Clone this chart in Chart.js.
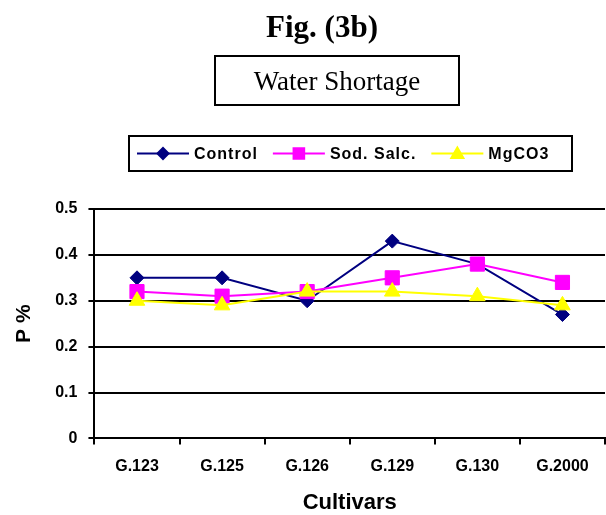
<!DOCTYPE html>
<html>
<head>
<meta charset="utf-8">
<script src="https://cdn.jsdelivr.net/npm/chart.js@4/dist/chart.umd.min.js"></script>
<style>
  html, body { margin: 0; padding: 0; background: #fff; overflow: hidden; }
  canvas { display: block; }
</style>
</head>
<body>
<canvas id="chart" width="606" height="515"></canvas>
<script>
// values (P %, water shortage)
const cultivars = ["G.123", "G.125", "G.126", "G.129", "G.130", "G.2000"];
const control   = [0.35, 0.35, 0.30, 0.43, 0.38, 0.27];
const sodSalc   = [0.32, 0.31, 0.32, 0.35, 0.38, 0.34];
const mgco3     = [0.30, 0.29, 0.32, 0.32, 0.31, 0.29];
const yTicks    = [0, 0.1, 0.2, 0.3, 0.4, 0.5];

const SANS = '"Liberation Sans", Arial, sans-serif';
const SERIF = '"Liberation Serif", "Times New Roman", serif';

function series(label, data, color, style, radius, order) {
  return {
    label, data, order,
    borderColor: color,
    backgroundColor: color,
    borderWidth: 2,
    pointStyle: style,
    pointRadius: radius,
    pointHoverRadius: radius,
    pointBorderWidth: 1,
    pointBorderColor: color,
    pointBackgroundColor: color,
    tension: 0,
  };
}

// title, "Water Shortage" box and the boxed legend are drawn by hand
const decorations = {
  id: "decorations",
  afterDraw(chart) {
    const ctx = chart.ctx;
    ctx.save();
    ctx.fillStyle = "#000";
    ctx.textAlign = "center";
    ctx.textBaseline = "middle";
    ctx.font = `bold 31px ${SERIF}`;
    ctx.fillText("Fig. (3b)", 322, 29);

    ctx.strokeStyle = "#000";
    ctx.lineWidth = 2;
    ctx.strokeRect(215, 56, 244, 49);
    ctx.font = `27px ${SERIF}`;
    ctx.fillText("Water Shortage", 337, 83);

    // legend
    ctx.strokeRect(129, 136, 443, 35);
    ctx.font = `bold 16px ${SANS}`;
    ctx.letterSpacing = "1px";
    ctx.textAlign = "left";
    const y = 153.5;
    let x = 137;
    const markers = [
      { style: "rectRot", radius: 5.5 },
      { style: "rect", radius: 7.5 },
      { style: "triangle", radius: 7 },
    ];
    chart.data.datasets.forEach((ds, i) => {
      ctx.strokeStyle = ds.borderColor;
      ctx.lineWidth = 2;
      ctx.beginPath();
      ctx.moveTo(x, y);
      ctx.lineTo(x + 52, y);
      ctx.stroke();
      Chart.helpers.drawPoint(ctx, {
        pointStyle: markers[i].style,
        radius: markers[i].radius,
        rotation: 0,
        borderWidth: 1,
      }, x + 26, y + (markers[i].style === "triangle" ? 1 : 0));
      ctx.fillStyle = ds.borderColor;
      ctx.fill();
      ctx.fillStyle = "#000";
      ctx.fillText(ds.label, x + 57, y + 1);
      x += 57 + ctx.measureText(ds.label).width + 15;
    });
    ctx.restore();
  },
};

new Chart(document.getElementById("chart"), {
  type: "line",
  data: {
    labels: cultivars,
    datasets: [
      series("Control", control, "#000080", "rectRot", 7, 2),
      series("Sod. Salc.", sodSalc, "#FF00FF", "rect", 10, 1),
      series("MgCO3", mgco3, "#FFFF00", "triangle", 9, 0),
    ],
  },
  options: {
    responsive: false,
    animation: false,
    layout: { autoPadding: false, padding: { top: 209, left: 12, right: 1, bottom: -1 } },
    plugins: { legend: { display: false }, tooltip: { enabled: false } },
    scales: {
      x: {
        offset: true,
        afterFit: (s) => { s.paddingRight = 0; s.paddingLeft = 0; },
        grid: {
          offset: true,
          drawOnChartArea: false,
          color: "#000",
          lineWidth: 2,
          tickLength: 6,
        },
        border: { color: "#000", width: 2 },
        ticks: {
          color: "#000",
          font: { family: SANS, size: 16, weight: "bold" },
          padding: 13,
          autoSkip: false,
          maxRotation: 0,
        },
        title: {
          display: true,
          text: "Cultivars",
          color: "#000",
          font: { family: SANS, size: 22, weight: "bold" },
          padding: { top: 0, bottom: 0 },
        },
      },
      y: {
        min: 0,
        max: 0.5,
        afterBuildTicks: (axis) => { axis.ticks = yTicks.map((v) => ({ value: v })); },
        grid: { color: "#000", lineWidth: 2, tickLength: 6 },
        border: { color: "#000", width: 2 },
        ticks: {
          color: "#000",
          font: { family: SANS, size: 16, weight: "bold" },
          padding: 11,
          callback: (v) => String(Math.round(v * 10) / 10),
        },
        title: {
          display: true,
          text: "P %",
          color: "#000",
          font: { family: SANS, size: 21, weight: "bold" },
          padding: { top: 0, bottom: 7 },
        },
      },
    },
  },
  plugins: [decorations],
});
</script>
</body>
</html>
